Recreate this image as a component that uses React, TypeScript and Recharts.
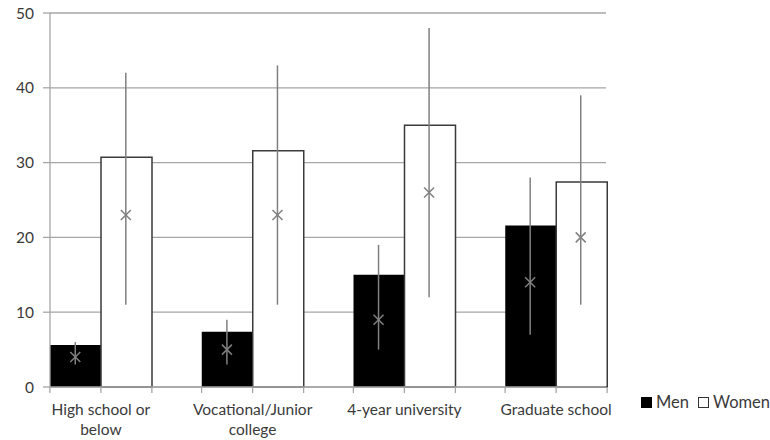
import React from 'react';
import { ComposedChart, Bar, Scatter, ErrorBar, XAxis, YAxis, CartesianGrid } from 'recharts';

const categories = ['High school or below', 'Vocational/Junior college', '4-year university', 'Graduate school'];
const menBar = [5.6, 7.4, 15.0, 21.6];
const womenBar = [30.7, 31.6, 35.0, 27.4];
const menMid = [4, 5, 9, 14];
const menLow = [3, 3, 5, 7];
const menHigh = [6, 9, 19, 28];
const womenMid = [23, 23, 26, 20];
const womenLow = [11, 11, 12, 11];
const womenHigh = [42, 43, 48, 39];
const yTicks = [0, 10, 20, 30, 40, 50];

const FONT = 'Lato, "Open Sans", sans-serif';
const TEXT = '#3a3a3a';
const GRID = '#a6a6a6';
const WHISKER = '#808080';

const barData = categories.map((name, i) => ({ name, men: menBar[i], women: womenBar[i] }));

// x slot: 3 slots per category, men in the first, women in the second
const markerRows = (mid: number[], low: number[], high: number[], slot: number) =>
  categories.map((_, i) => ({ pos: i * 3 + slot, mid: mid[i], err: [mid[i] - low[i], high[i] - mid[i]] }));

const menMarkers = markerRows(menMid, menLow, menHigh, 0);
const womenMarkers = markerRows(womenMid, womenLow, womenHigh, 1);

const wrap = (label: string, max = 17) => {
  const lines: string[] = [];
  let cur = '';
  label.split(' ').forEach((w) => {
    const next = cur ? cur + ' ' + w : w;
    if (next.length > max && cur) {
      lines.push(cur);
      cur = w;
    } else cur = next;
  });
  if (cur) lines.push(cur);
  return lines;
};

const CategoryTick = (props: any) => {
  const { x, y, payload } = props;
  const half = 51;
  return (
    <g>
      {[-half, 0, half].map((dx) => (
        <line key={dx} x1={x + dx} x2={x + dx} y1={y} y2={y + 6} stroke={GRID} strokeWidth={1.3} />
      ))}
      {wrap(payload.value).map((line, i) => (
        <text key={i} x={x} y={y + 28 + i * 20} textAnchor="middle" fontSize={15.5} fontFamily={FONT} fill={TEXT}>
          {line}
        </text>
      ))}
    </g>
  );
};

const XMark = (props: any) => {
  const { cx, cy } = props;
  const s = 5;
  return (
    <g>
      <line x1={cx - s} y1={cy - s} x2={cx + s} y2={cy + s} stroke={WHISKER} strokeWidth={1.5} />
      <line x1={cx - s} y1={cy + s} x2={cx + s} y2={cy - s} stroke={WHISKER} strokeWidth={1.5} />
    </g>
  );
};

export default function App() {
  return (
    <div style={{ position: 'absolute', left: 0, top: 0, width: 770, height: 440, background: '#fff' }}>
      <ComposedChart
        width={770}
        height={440}
        data={barData}
        margin={{ top: 13, right: 164, bottom: 0, left: 0 }}
        barGap={0}
      >
        <CartesianGrid vertical={false} stroke={GRID} strokeWidth={1.3} />
        <XAxis
          dataKey="name"
          padding={{ left: -25, right: -26 }}
          axisLine={{ stroke: GRID, strokeWidth: 1.3 }}
          tickLine={false}
          tickSize={0}
          tickMargin={0}
          height={53}
          interval={0}
          tick={<CategoryTick />}
        />
        <XAxis xAxisId="pos" type="number" dataKey="pos" domain={[-0.5, 10.5]} allowDataOverflow hide />
        <YAxis
          width={50}
          domain={[0, 50]}
          ticks={yTicks}
          axisLine={{ stroke: GRID, strokeWidth: 1.3 }}
          tickLine={{ stroke: GRID, strokeWidth: 1.3 }}
          tickSize={7}
          tickMargin={9}
          tick={{ fontSize: 15.5, fontFamily: FONT, fill: TEXT }}
        />
        <Bar dataKey="men" fill="#000000" barSize={51} isAnimationActive={false} />
        <Bar dataKey="women" fill="#ffffff" stroke="#3a3a3a" strokeWidth={1.5} barSize={51} isAnimationActive={false} />
        <Scatter data={menMarkers} xAxisId="pos" dataKey="mid" shape={<XMark />} isAnimationActive={false}>
          <ErrorBar dataKey="err" direction="y" width={0} stroke={WHISKER} strokeWidth={1.5} />
        </Scatter>
        <Scatter data={womenMarkers} xAxisId="pos" dataKey="mid" shape={<XMark />} isAnimationActive={false}>
          <ErrorBar dataKey="err" direction="y" width={0} stroke={WHISKER} strokeWidth={1.5} />
        </Scatter>
      </ComposedChart>
      <div
        style={{
          position: 'absolute',
          left: 641,
          top: 392,
          display: 'flex',
          alignItems: 'center',
          fontFamily: FONT,
          fontSize: 16.5,
          color: TEXT,
          whiteSpace: 'nowrap',
        }}
      >
        <span style={{ display: 'inline-block', width: 11, height: 11, background: '#000', marginRight: 4 }} />
        <span style={{ marginRight: 9 }}>Men</span>
        <span style={{ display: 'inline-block', width: 9, height: 9, border: '1px solid #333', marginRight: 4 }} />
        <span>Women</span>
      </div>
    </div>
  );
}
